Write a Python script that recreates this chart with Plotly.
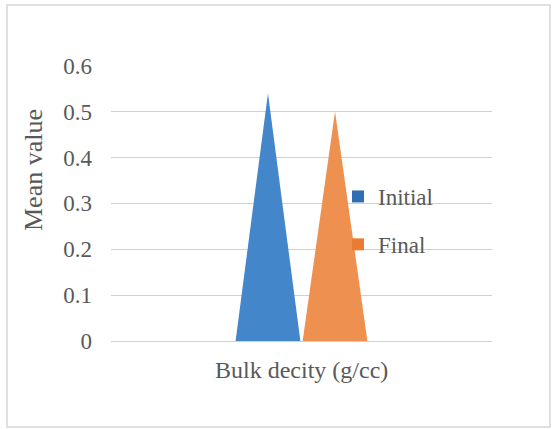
import plotly.graph_objects as go

# Data
category = "Bulk decity (g/cc)"
series_names = ["Initial", "Final"]
series_values = [0.54, 0.50]
tick_values = [0, 0.1, 0.2, 0.3, 0.4, 0.5, 0.6]
tick_labels = ["0", "0.1", "0.2", "0.3", "0.4", "0.5", "0.6"]

# Styling
fill_colors = ["#4486CA", "#EE9150"]
legend_colors = ["#2F6DB5", "#E97B34"]
text_color = "#595959"
grid_color = "#D0D0D0"
font_family = "Liberation Serif"

W, H = 555, 429
margin = dict(l=111, r=63, t=65, b=88)
plot_w = W - margin["l"] - margin["r"]
plot_h = H - margin["t"] - margin["b"]


def px_to_paper_x(px):
    return (px - margin["l"]) / plot_w


def px_to_paper_y(py):
    return (H - margin["b"] - py) / plot_h


# Pyramid-style columns for the single category (centred at 0)
bar_width = 0.17
bar_gap = 0.006
n = len(series_values)
offsets = [(i - (n - 1) / 2) * (bar_width + bar_gap) for i in range(n)]

fig = go.Figure()

for name, val, off, fc in zip(series_names, series_values, offsets, fill_colors):
    left, right = off - bar_width / 2, off + bar_width / 2
    fig.add_trace(go.Scatter(
        x=[left, off, right, left],
        y=[0, val, 0, 0],
        mode="lines",
        fill="toself",
        fillcolor=fc,
        line=dict(width=0, color=fc),
        showlegend=False,
        hoverinfo="skip",
    ))

# Legend entries (square swatches)
for i, (name, lc) in enumerate(zip(series_names, legend_colors)):
    fig.add_trace(go.Scatter(
        x=[None], y=[None],
        mode="markers",
        marker=dict(symbol="square", size=10, color=lc),
        name=name,
        legendgroup=name,
    ))

fig.update_layout(
    width=W, height=H,
    margin=margin,
    paper_bgcolor="white",
    plot_bgcolor="white",
    font=dict(family=font_family, color=text_color, size=23),
    legend=dict(
        x=px_to_paper_x(338), xanchor="left",
        y=px_to_paper_y(175), yanchor="top",
        bgcolor="rgba(0,0,0,0)",
        font=dict(size=23, color=text_color, family=font_family),
        tracegroupgap=15,
        itemsizing="constant",
    ),
    xaxis=dict(
        range=[-0.5, 0.5],
        showgrid=False,
        zeroline=False,
        showticklabels=False,
        showline=False,
        fixedrange=True,
    ),
    yaxis=dict(
        range=[0, 0.6015],
        tickvals=tick_values,
        ticktext=tick_labels,
        showgrid=True,
        gridcolor=grid_color,
        gridwidth=1.3,
        zeroline=True,
        zerolinecolor=grid_color,
        zerolinewidth=1.3,
        showline=False,
        ticks="",
        ticklabelstandoff=18,
        tickfont=dict(size=23, color=text_color, family=font_family),
    ),
    annotations=[
        dict(
            text=category, xref="x", yref="paper",
            x=0, y=px_to_paper_y(370),
            xanchor="center", yanchor="middle",
            showarrow=False,
            font=dict(size=24, color=text_color, family=font_family),
        ),
        dict(
            text="Mean value", xref="paper", yref="paper",
            x=px_to_paper_x(33), y=px_to_paper_y(170),
            xanchor="center", yanchor="middle",
            textangle=-90, showarrow=False,
            font=dict(size=26, color=text_color, family=font_family),
        ),
    ],
    shapes=[
        dict(
            type="rect", xref="paper", yref="paper",
            x0=px_to_paper_x(7), x1=px_to_paper_x(550),
            y0=px_to_paper_y(427), y1=px_to_paper_y(5),
            line=dict(color="#D6D6D6", width=1.5),
            fillcolor="rgba(0,0,0,0)",
            layer="below",
        )
    ],
)

fig.write_html("out.html")
